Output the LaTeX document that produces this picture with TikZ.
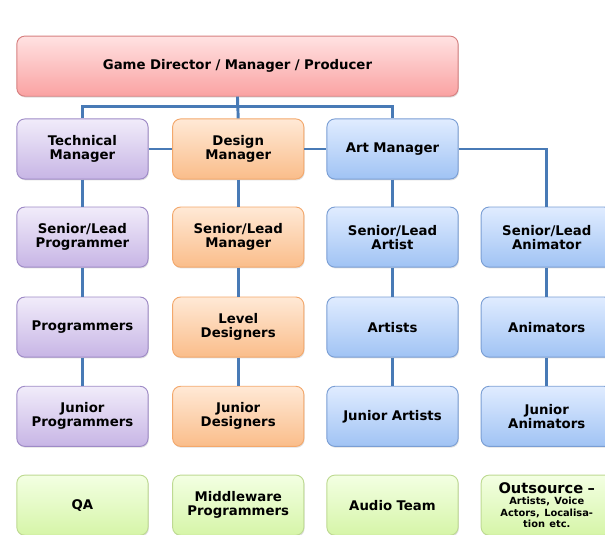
\documentclass[tikz,border=0pt]{standalone}
\usepackage{fontspec}
\setmainfont{DejaVu Sans}
\usepackage{xcolor}
\usepackage{tikz}
\usetikzlibrary{positioning, shadows}
\definecolor{conncol}{RGB}{72,122,182}
\definecolor{redtop}{RGB}{255,226,226}
\definecolor{redbot}{RGB}{250,162,162}
\definecolor{reddraw}{RGB}{214,128,128}
\definecolor{purptop}{RGB}{241,236,250}
\definecolor{purpbot}{RGB}{199,181,229}
\definecolor{purpdraw}{RGB}{158,138,198}
\definecolor{ortop}{RGB}{255,233,214}
\definecolor{orbot}{RGB}{250,189,138}
\definecolor{ordraw}{RGB}{243,168,108}
\definecolor{bluetop}{RGB}{224,236,255}
\definecolor{bluebot}{RGB}{160,195,244}
\definecolor{bluedraw}{RGB}{122,158,212}
\definecolor{greentop}{RGB}{243,255,227}
\definecolor{greenbot}{RGB}{214,245,168}
\definecolor{greendraw}{RGB}{190,218,146}
\tikzset{
  box/.style={rectangle, rounded corners=6pt, line width=0.7pt,
    minimum width=3.47cm, minimum height=1.59cm, text width=3.3cm,
    align=center, inner sep=2pt,
    font=\fontsize{10}{10.5}\selectfont\bfseries,
    drop shadow={shadow xshift=0.6pt, shadow yshift=-1pt, opacity=0.25}},
  redbox/.style={box, draw=reddraw, top color=redtop, bottom color=redbot},
  purpbox/.style={box, draw=purpdraw, top color=purptop, bottom color=purpbot},
  orbox/.style={box, draw=ordraw, top color=ortop, bottom color=orbot},
  bluebox/.style={box, draw=bluedraw, top color=bluetop, bottom color=bluebot},
  greenbox/.style={box, draw=greendraw, top color=greentop, bottom color=greenbot},
  conn/.style={line width=2.2pt, color=conncol}
}

\begin{document}
\begin{tikzpicture}
  \useasboundingbox (0,0) rectangle (16.0,14.13);

  % Head of the team
  \node[redbox, minimum width=11.67cm, text width=11cm] (gdm) at (6.28,12.38) {Game Director / Manager / Producer};

  % Row 1: managers
  \node[purpbox] (techmgr) at (2.18,10.19) {Technical\\Manager};
  \node[orbox] (desmgr) at (6.30,10.19) {Design\\Manager};
  \node[bluebox] (artmgr) at (10.38,10.19) {Art Manager};

  % Row 2: leads
  \node[purpbox] (leadprog) at (2.18,7.86) {Senior/Lead\\Programmer};
  \node[orbox] (leadmgr) at (6.30,7.86) {Senior/Lead\\Manager};
  \node[bluebox] (leadart) at (10.38,7.86) {Senior/Lead\\Artist};
  \node[bluebox] (leadanim) at (14.46,7.86) {Senior/Lead\\Animator};

  % Row 3
  \node[purpbox] (progs) at (2.18,5.48) {Programmers};
  \node[orbox] (leveldes) at (6.30,5.48) {Level\\Designers};
  \node[bluebox] (artists) at (10.38,5.48) {Artists};
  \node[bluebox] (anims) at (14.46,5.48) {Animators};

  % Row 4: juniors
  \node[purpbox] (jrprog) at (2.18,3.12) {Junior\\Programmers};
  \node[orbox] (jrdes) at (6.30,3.12) {Junior\\Designers};
  \node[bluebox] (jrart) at (10.38,3.12) {Junior Artists};
  \node[bluebox] (jranim) at (14.46,3.12) {Junior\\Animators};

  % Row 5: support teams (not linked)
  \node[greenbox] (qa) at (2.18,0.77) {QA};
  \node[greenbox] (midware) at (6.30,0.77) {Middleware\\Programmers};
  \node[greenbox] (audio) at (10.38,0.77) {Audio Team};
  \node[greenbox] (outsrc) at (14.46,0.77) {{\fontsize{11}{11}\selectfont Outsource --}\\{\fontsize{7.4}{8.4}\selectfont Artists, Voice\\Actors, Localisa-\\tion etc.\par}};

  % Connectors
  \draw[conn] (gdm.south) -- (desmgr.north);
  \draw[conn] (gdm.south) -- ++(0,-0.26) -| (techmgr.north);
  \draw[conn] (gdm.south) -- ++(0,-0.26) -| (artmgr.north);
  \draw[conn] (techmgr.east) -- (desmgr.west);
  \draw[conn] (desmgr.east) -- (artmgr.west);
  \draw[conn] (artmgr.east) -| (leadanim.north);
  \draw[conn] (techmgr) -- (leadprog);
  \draw[conn] (leadprog) -- (progs);
  \draw[conn] (progs) -- (jrprog);
  \draw[conn] (desmgr) -- (leadmgr);
  \draw[conn] (leadmgr) -- (leveldes);
  \draw[conn] (leveldes) -- (jrdes);
  \draw[conn] (artmgr) -- (leadart);
  \draw[conn] (leadart) -- (artists);
  \draw[conn] (artists) -- (jrart);
  \draw[conn] (leadanim) -- (anims);
  \draw[conn] (anims) -- (jranim);
\end{tikzpicture}
\end{document}
